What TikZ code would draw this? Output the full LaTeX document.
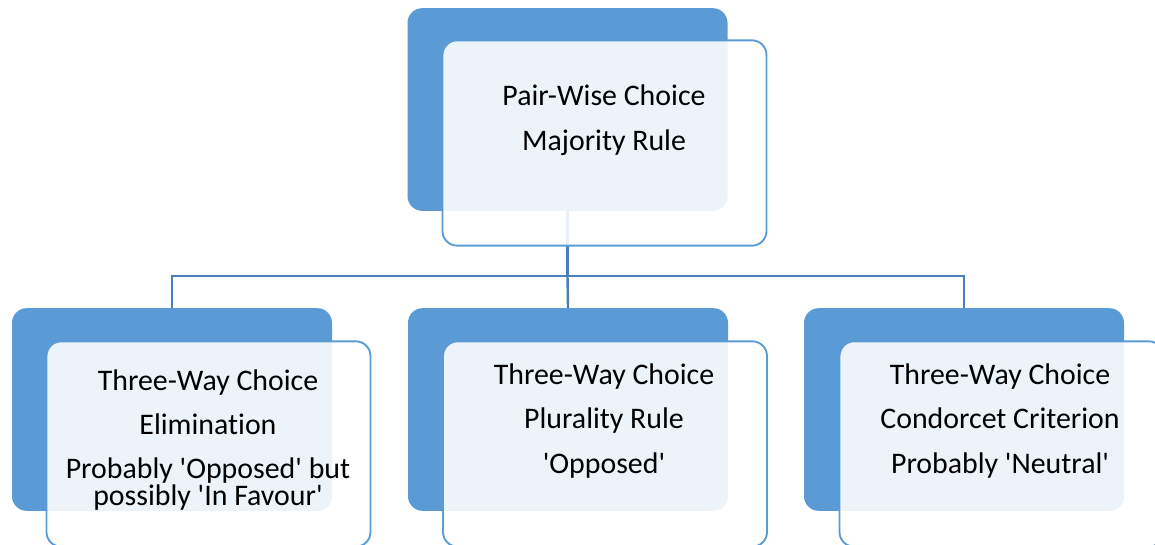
\documentclass[tikz,border=0pt]{standalone}
\usepackage{fontspec}
\setmainfont{Carlito}[Ligatures=NoCommon]
\usepackage{tikz}
\usetikzlibrary{positioning}

\definecolor{accblue}{HTML}{5B9BD5}
\definecolor{linkblue}{HTML}{4A7EBB}

\tikzset{
  backbox/.style={fill=accblue, rounded corners=11pt, inner sep=0pt,
    minimum width=240pt, minimum height=152pt},
  frontbox/.style={draw=accblue, line width=1.4pt, fill=white, fill opacity=0.89,
    rounded corners=11pt, inner sep=0pt, minimum width=243pt, minimum height=154pt},
  txt/.style={align=center, font=\fontsize{22.4pt}{20.5pt}\selectfont, inner sep=0pt},
  conn/.style={draw=linkblue, line width=1.8pt}
}

\begin{document}
\begin{tikzpicture}[x=0.75pt,y=-0.75pt]
\useasboundingbox (0,0) rectangle (1155,545);
% back panels
\node[backbox] (back0) at (567.5,109.5) {};
\node[backbox] (back1) at (172,409.5) {};
\node[backbox] (back2) at (568,409.5) {};
\node[backbox] (back3) at (964,409.5) {};
% connectors
\draw[conn] (back0.south) -- ++(0,65) coordinate (bus);
\draw[conn] (bus) -| (back1.north);
\draw[conn] (bus) -- (back2.north);
\draw[conn] (bus) -| (back3.north);
% front panels
\node[frontbox] (front0) at (604.5,143) {};
\node[frontbox] (front1) at (208.5,444) {};
\node[frontbox] (front2) at (605,444) {};
\node[frontbox] (front3) at (1001.5,444) {};
% texts
\node[txt] (label0) at (604,120.5) {Pair-Wise Choice\\[13pt]Majority Rule};
\node[txt] (label1) at (208,440) {Three-Way Choice\\[13pt]Elimination\\[12pt]Probably \textquotesingle Opposed\textquotesingle{} but\\possibly \textquotesingle In Favour\textquotesingle};
\node[txt] (label2) at (604,421) {Three-Way Choice\\[13pt]Plurality Rule\\[13pt]\textquotesingle Opposed\textquotesingle};
\node[txt] (label3) at (1000,421) {Three-Way Choice\\[13pt]Condorcet Criterion\\[13pt]Probably \textquotesingle Neutral\textquotesingle};
\end{tikzpicture}
\end{document}
